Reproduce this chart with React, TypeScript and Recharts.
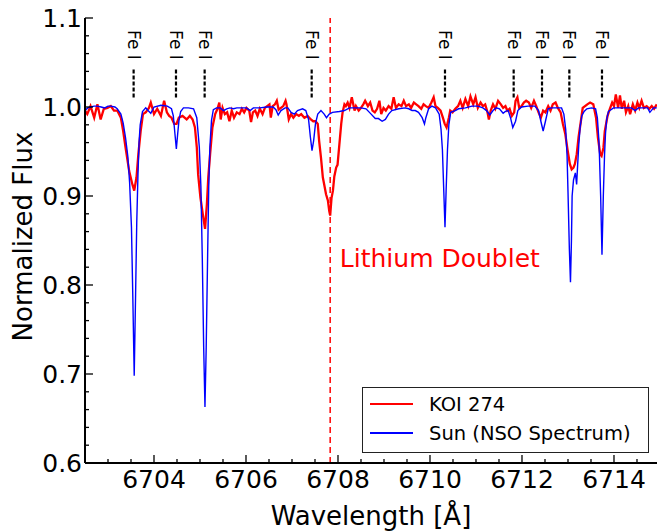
import React from 'react';
import { ComposedChart, Line, XAxis, YAxis, ReferenceLine, ReferenceDot, Legend } from 'recharts';

const FONT = "'DejaVu Sans', sans-serif";

// wavelength [Å], normalized flux
const KOI_274: [number, number][] = [
  [6702.50, 0.996], [6702.55, 0.992], [6702.62, 1.001], [6702.70, 0.988], [6702.77, 1.003],
  [6702.84, 0.986], [6702.91, 0.998], [6702.99, 0.999], [6703.06, 1.001], [6703.13, 0.996],
  [6703.20, 0.996], [6703.28, 0.988], [6703.33, 0.973], [6703.38, 0.955], [6703.46, 0.928],
  [6703.53, 0.913], [6703.57, 0.906], [6703.62, 0.921], [6703.66, 0.947], [6703.71, 0.973],
  [6703.76, 0.992], [6703.82, 0.994], [6703.89, 0.999], [6703.93, 1.005], [6704.00, 0.992],
  [6704.07, 0.998], [6704.15, 0.990], [6704.22, 1.007], [6704.28, 0.994], [6704.33, 0.990],
  [6704.38, 0.988], [6704.44, 0.981], [6704.49, 0.981], [6704.54, 0.988], [6704.62, 0.990],
  [6704.71, 0.986], [6704.78, 0.990], [6704.84, 0.986], [6704.89, 0.977], [6704.93, 0.955],
  [6704.96, 0.924], [6705.01, 0.898], [6705.06, 0.880], [6705.11, 0.863], [6705.15, 0.891],
  [6705.18, 0.921], [6705.22, 0.947], [6705.27, 0.977], [6705.33, 0.992], [6705.38, 0.998],
  [6705.42, 1.005], [6705.45, 0.986], [6705.49, 0.999], [6705.54, 0.992], [6705.59, 0.994],
  [6705.64, 0.984], [6705.69, 0.996], [6705.74, 0.988], [6705.80, 0.994], [6705.86, 0.992],
  [6705.91, 0.998], [6705.96, 0.994], [6706.01, 0.999], [6706.07, 0.996], [6706.11, 0.983],
  [6706.15, 0.994], [6706.20, 0.996], [6706.25, 0.990], [6706.30, 0.998], [6706.36, 0.992],
  [6706.41, 0.999], [6706.46, 1.001], [6706.51, 1.003], [6706.54, 0.988], [6706.58, 1.001],
  [6706.63, 1.003], [6706.67, 1.007], [6706.71, 0.997], [6706.76, 0.999], [6706.81, 1.001],
  [6706.86, 1.007], [6706.88, 1.003], [6706.93, 0.986], [6706.98, 0.992], [6707.03, 0.988],
  [6707.09, 0.992], [6707.15, 0.990], [6707.20, 0.992], [6707.27, 0.988], [6707.34, 0.990],
  [6707.41, 0.986], [6707.46, 0.984], [6707.51, 0.984], [6707.56, 0.981], [6707.59, 0.962],
  [6707.63, 0.943], [6707.67, 0.921], [6707.70, 0.913], [6707.74, 0.902], [6707.78, 0.895],
  [6707.81, 0.883], [6707.83, 0.878], [6707.86, 0.898], [6707.89, 0.906], [6707.92, 0.922],
  [6707.96, 0.932], [6707.99, 0.935], [6708.03, 0.958], [6708.07, 0.981], [6708.10, 0.994],
  [6708.14, 1.003], [6708.17, 1.001], [6708.21, 1.005], [6708.25, 0.999], [6708.30, 1.011],
  [6708.36, 0.996], [6708.39, 1.001], [6708.45, 0.996], [6708.50, 0.999], [6708.55, 1.003],
  [6708.59, 1.007], [6708.65, 1.001], [6708.70, 1.005], [6708.75, 0.996], [6708.80, 0.994],
  [6708.85, 0.998], [6708.90, 1.007], [6708.94, 0.992], [6708.99, 0.999], [6709.04, 0.996],
  [6709.10, 1.001], [6709.16, 0.998], [6709.21, 1.011], [6709.26, 0.999], [6709.32, 1.003],
  [6709.38, 1.001], [6709.43, 1.007], [6709.48, 1.001], [6709.54, 1.003], [6709.59, 0.999],
  [6709.65, 1.005], [6709.70, 1.003], [6709.75, 1.001], [6709.81, 0.998], [6709.86, 1.003],
  [6709.91, 1.001], [6709.97, 0.999], [6710.03, 1.005], [6710.08, 1.011], [6710.12, 1.001],
  [6710.17, 0.999], [6710.23, 0.996], [6710.28, 0.988], [6710.32, 0.981], [6710.36, 0.977],
  [6710.41, 0.988], [6710.44, 0.996], [6710.49, 0.994], [6710.55, 0.998], [6710.61, 1.001],
  [6710.66, 1.007], [6710.71, 0.999], [6710.77, 1.009], [6710.83, 1.001], [6710.88, 1.012],
  [6710.94, 1.003], [6710.99, 1.011], [6711.04, 0.999], [6711.10, 1.005], [6711.15, 1.001],
  [6711.20, 1.003], [6711.25, 0.994], [6711.28, 0.986], [6711.32, 0.996], [6711.37, 1.003],
  [6711.42, 0.998], [6711.48, 1.007], [6711.54, 1.003], [6711.59, 0.999], [6711.64, 1.001],
  [6711.68, 0.996], [6711.73, 0.998], [6711.78, 0.990], [6711.83, 0.994], [6711.86, 1.007],
  [6711.90, 1.011], [6711.94, 0.999], [6711.99, 1.001], [6712.04, 1.005], [6712.09, 1.007],
  [6712.15, 1.005], [6712.20, 0.999], [6712.26, 1.007], [6712.31, 1.001], [6712.36, 0.994],
  [6712.41, 0.988], [6712.46, 0.996], [6712.51, 0.994], [6712.57, 1.001], [6712.62, 0.996],
  [6712.67, 1.003], [6712.73, 1.005], [6712.78, 0.999], [6712.84, 0.994], [6712.89, 0.981],
  [6712.94, 0.970], [6712.99, 0.952], [6713.04, 0.936], [6713.08, 0.930], [6713.12, 0.932],
  [6713.15, 0.936], [6713.19, 0.947], [6713.23, 0.966], [6713.28, 0.984], [6713.32, 0.999],
  [6713.37, 1.001], [6713.42, 1.003], [6713.48, 1.005], [6713.55, 1.003], [6713.61, 0.988],
  [6713.65, 0.966], [6713.70, 0.947], [6713.73, 0.945], [6713.77, 0.954], [6713.80, 0.973],
  [6713.86, 0.990], [6713.91, 0.998], [6713.96, 1.005], [6714.00, 1.001], [6714.04, 1.014],
  [6714.09, 0.999], [6714.13, 1.013], [6714.17, 0.998], [6714.22, 1.007], [6714.26, 0.994],
  [6714.31, 1.001], [6714.35, 0.992], [6714.41, 1.003], [6714.46, 0.996], [6714.51, 1.005],
  [6714.55, 0.999], [6714.60, 1.007], [6714.65, 0.999], [6714.71, 1.001], [6714.77, 0.998],
  [6714.82, 1.001], [6714.87, 0.998], [6714.93, 1.003],
];

const SUN_NSO: [number, number][] = [
  [6702.50, 0.996], [6702.56, 0.999], [6702.62, 1.000], [6702.70, 1.001], [6702.77, 1.001],
  [6702.85, 1.000], [6702.93, 0.999], [6703.00, 1.001], [6703.06, 1.001], [6703.15, 1.000],
  [6703.20, 0.998], [6703.28, 0.992], [6703.33, 0.982], [6703.38, 0.966], [6703.43, 0.945],
  [6703.47, 0.915], [6703.51, 0.865], [6703.54, 0.785], [6703.57, 0.698], [6703.60, 0.790],
  [6703.625, 0.870], [6703.652, 0.925], [6703.675, 0.960], [6703.70, 0.980], [6703.75, 0.995],
  [6703.82, 0.999], [6703.87, 0.996], [6703.93, 0.993], [6704.00, 1.000], [6704.15, 1.002],
  [6704.29, 1.001], [6704.38, 0.998], [6704.42, 0.990], [6704.455, 0.970], [6704.486, 0.953],
  [6704.515, 0.970], [6704.543, 0.985], [6704.58, 0.995], [6704.64, 0.999], [6704.75, 0.999],
  [6704.86, 0.998], [6704.93, 0.988], [6704.985, 0.955], [6705.02, 0.910], [6705.05, 0.830],
  [6705.08, 0.730], [6705.108, 0.663], [6705.135, 0.730], [6705.165, 0.830], [6705.19, 0.910],
  [6705.215, 0.955], [6705.25, 0.985], [6705.29, 0.997], [6705.36, 0.999], [6705.44, 0.999],
  [6705.51, 0.996], [6705.58, 0.998], [6705.65, 0.999], [6705.73, 0.998], [6705.80, 0.999],
  [6705.87, 0.999], [6705.94, 0.999], [6706.01, 0.999], [6706.09, 0.996], [6706.16, 0.999],
  [6706.30, 0.999], [6706.45, 1.000], [6706.59, 1.000], [6706.65, 0.997], [6706.70, 0.991],
  [6706.76, 0.996], [6706.85, 0.999], [6706.91, 0.999], [6706.98, 0.994], [6707.05, 0.992],
  [6707.12, 0.996], [6707.23, 0.998], [6707.30, 0.996], [6707.36, 0.986], [6707.40, 0.966],
  [6707.435, 0.951], [6707.47, 0.962], [6707.51, 0.981], [6707.56, 0.992], [6707.63, 0.996],
  [6707.70, 0.992], [6707.75, 0.988], [6707.81, 0.992], [6707.88, 0.994], [6708.03, 0.995],
  [6708.14, 0.996], [6708.25, 0.999], [6708.39, 0.999], [6708.50, 0.999], [6708.61, 0.998],
  [6708.72, 0.992], [6708.81, 0.987], [6708.88, 0.987], [6708.96, 0.984], [6709.03, 0.986],
  [6709.10, 0.992], [6709.17, 0.996], [6709.32, 0.998], [6709.46, 0.999], [6709.54, 0.998],
  [6709.61, 0.996], [6709.68, 0.996], [6709.75, 0.994], [6709.83, 0.988], [6709.88, 0.981],
  [6709.91, 0.988], [6709.97, 0.998], [6710.04, 1.001], [6710.12, 0.999], [6710.20, 0.992],
  [6710.24, 0.975], [6710.27, 0.952], [6710.30, 0.905], [6710.326, 0.865], [6710.35, 0.905],
  [6710.38, 0.952], [6710.41, 0.980], [6710.45, 0.994], [6710.55, 0.996], [6710.62, 0.998],
  [6710.77, 0.999], [6710.91, 1.001], [6711.04, 1.001], [6711.15, 0.999], [6711.23, 0.996],
  [6711.30, 0.991], [6711.37, 0.996], [6711.44, 0.999], [6711.51, 0.998], [6711.59, 0.993],
  [6711.64, 0.995], [6711.70, 0.996], [6711.75, 0.988], [6711.80, 0.977], [6711.86, 0.984],
  [6711.91, 0.996], [6711.99, 1.000], [6712.13, 1.001], [6712.28, 1.001], [6712.36, 0.996],
  [6712.41, 0.984], [6712.46, 0.973], [6712.51, 0.984], [6712.57, 0.998], [6712.64, 0.999],
  [6712.78, 0.999], [6712.86, 0.999], [6712.91, 0.992], [6712.95, 0.975], [6712.98, 0.945],
  [6713.00, 0.905], [6713.03, 0.840], [6713.054, 0.803], [6713.075, 0.850], [6713.09, 0.900],
  [6713.12, 0.918], [6713.16, 0.926], [6713.188, 0.913], [6713.21, 0.935], [6713.235, 0.958],
  [6713.265, 0.978], [6713.30, 0.990], [6713.35, 0.995], [6713.41, 0.998], [6713.51, 0.999],
  [6713.60, 0.998], [6713.638, 0.988], [6713.665, 0.968], [6713.683, 0.947], [6713.71, 0.900],
  [6713.739, 0.834], [6713.768, 0.900], [6713.795, 0.947], [6713.815, 0.970], [6713.841, 0.986],
  [6713.88, 0.995], [6713.99, 0.999], [6714.13, 0.999], [6714.28, 0.999], [6714.38, 0.999],
  [6714.46, 0.996], [6714.53, 0.999], [6714.64, 0.999], [6714.73, 0.999], [6714.78, 0.994],
  [6714.86, 0.999], [6714.93, 0.999],
];

const FE_LINES = [6703.557, 6704.478, 6705.101, 6707.428, 6710.326, 6711.819, 6712.435, 6713.029, 6713.739];
const FE_TEXT_Y = 1.0697;
const FE_DASH_TOP = 1.0444;
const FE_DASH_BOTTOM = 1.0107;

const LI_DOUBLET = 6707.83;
const LI_LABEL = { wl: 6708.04, flux: 0.8197 };

const X_DOMAIN: [number, number] = [6702.5, 6714.935];
const Y_DOMAIN: [number, number] = [0.6, 1.1];
const X_MAJOR = [6704, 6706, 6708, 6710, 6712, 6714];
const X_TICKS = [
  6703, 6703.5, 6704, 6704.5, 6705, 6705.5, 6706, 6706.5, 6707, 6707.5, 6708, 6708.5,
  6709, 6709.5, 6710, 6710.5, 6711, 6711.5, 6712, 6712.5, 6713, 6713.5, 6714, 6714.5,
];
const Y_MAJOR = [0.6, 0.7, 0.8, 0.9, 1.0, 1.1];
const Y_TICKS = [
  0.6, 0.62, 0.64, 0.66, 0.68, 0.7, 0.72, 0.74, 0.76, 0.78, 0.8, 0.82, 0.84, 0.86, 0.88,
  0.9, 0.92, 0.94, 0.96, 0.98, 1.0, 1.02, 1.04, 1.06, 1.08, 1.1,
];

const koiRows = KOI_274.map(([wl, flux]) => ({ wl, flux }));
const sunRows = SUN_NSO.map(([wl, flux]) => ({ wl, flux }));

const isMajor = (list: number[], v: number) => list.some((m) => Math.abs(m - v) < 1e-6);

const TICK_FONT = 25;

const BottomTick = ({ x, y, payload }: any) => {
  const major = isMajor(X_MAJOR, payload.value);
  return (
    <g>
      <line x1={x} y1={y} x2={x} y2={y - (major ? 8 : 4)} stroke="#000" strokeWidth={1.3} />
      {major && (
        <text x={x} y={y + 25} textAnchor="middle" fontSize={TICK_FONT} fontFamily={FONT} fill="#000">
          {payload.value}
        </text>
      )}
    </g>
  );
};

const TopTick = ({ x, y, payload }: any) => {
  const major = isMajor(X_MAJOR, payload.value);
  return <line x1={x} y1={y} x2={x} y2={y + (major ? 8 : 4)} stroke="#000" strokeWidth={1.3} />;
};

const LeftTick = ({ x, y, payload }: any) => {
  const major = isMajor(Y_MAJOR, payload.value);
  return (
    <g>
      <line x1={x} y1={y} x2={x + (major ? 8 : 4)} y2={y} stroke="#000" strokeWidth={1.3} />
      {major && (
        <text x={x - 3} y={y + 8.5} textAnchor="end" fontSize={TICK_FONT} fontFamily={FONT} fill="#000">
          {payload.value.toFixed(1)}
        </text>
      )}
    </g>
  );
};

const RightTick = ({ x, y, payload }: any) => {
  const major = isMajor(Y_MAJOR, payload.value);
  return <line x1={x} y1={y} x2={x - (major ? 8 : 4)} y2={y} stroke="#000" strokeWidth={1.3} />;
};

const FeLabel = ({ cx, cy }: any) => (
  <text
    x={cx}
    y={cy}
    transform={`rotate(90 ${cx} ${cy})`}
    textAnchor="middle"
    dominantBaseline="central"
    fontSize={17}
    fontFamily={FONT}
    fill="#000"
  >
    Fe I
  </text>
);

const LiLabel = ({ cx, cy }: any) => (
  <text x={cx} y={cy} fontSize={25} fontFamily={FONT} fill="#ff0000">
    Lithium Doublet
  </text>
);

const LegendBox = ({ payload }: any) => (
  <svg width={287} height={66} style={{ display: 'block' }}>
    <rect x={0.5} y={0.5} width={286} height={65} fill="#fff" stroke="#222" strokeWidth={1} />
    {(payload || []).map((p: any, i: number) => (
      <g key={p.value}>
        <line x1={8} x2={51} y1={17 + i * 29} y2={17 + i * 29} stroke={p.color} strokeWidth={2} />
        <text x={67} y={24 + i * 29} fontSize={19.5} fontFamily={FONT} fill="#000">
          {p.value}
        </text>
      </g>
    ))}
  </svg>
);

const axisLine = { stroke: '#000', strokeWidth: 2 };

export default function App() {
  return (
    <div style={{ position: 'absolute', left: 0, top: 0, background: '#fff' }}>
      <ComposedChart width={658} height={531} margin={{ top: 18, right: 1, bottom: 0, left: 0 }}>
        <XAxis
          dataKey="wl"
          type="number"
          domain={X_DOMAIN}
          allowDataOverflow
          ticks={X_TICKS}
          interval={0}
          tickSize={0}
          tickMargin={0}
          tickLine={false}
          tick={<BottomTick />}
          axisLine={axisLine}
          height={68}
          label={{
            content: ({ viewBox }: any) => {
              const vb = viewBox || { x: 85, y: 463, width: 572, height: 68 };
              return (
                <text x={vb.x + vb.width / 2} y={vb.y + 62} textAnchor="middle" fontSize={26} fontFamily={FONT} fill="#000">
                  Wavelength [Å]
                </text>
              );
            },
          }}
        />
        <XAxis
          xAxisId="top"
          orientation="top"
          type="number"
          domain={X_DOMAIN}
          allowDataOverflow
          ticks={X_TICKS}
          interval={0}
          tickSize={0}
          tickMargin={0}
          tickLine={false}
          tick={<TopTick />}
          axisLine={axisLine}
          height={0}
        />
        <YAxis
          type="number"
          domain={Y_DOMAIN}
          allowDataOverflow
          ticks={Y_TICKS}
          interval={0}
          tickSize={0}
          tickMargin={0}
          tickLine={false}
          tick={<LeftTick />}
          axisLine={axisLine}
          width={85}
          label={{
            content: ({ viewBox }: any) => {
              const vb = viewBox || { x: 0, y: 18, width: 85, height: 445 };
              const cx = 31.5;
              const cy = vb.y + vb.height / 2 - 4;
              return (
                <text x={cx} y={cy} transform={`rotate(-90 ${cx} ${cy})`} textAnchor="middle" fontSize={26} fontFamily={FONT} fill="#000">
                  Normalized Flux
                </text>
              );
            },
          }}
        />
        <YAxis
          yAxisId="right"
          orientation="right"
          type="number"
          domain={Y_DOMAIN}
          allowDataOverflow
          ticks={Y_TICKS}
          interval={0}
          tickSize={0}
          tickMargin={0}
          tickLine={false}
          tick={<RightTick />}
          axisLine={axisLine}
          width={0}
        />
        <ReferenceLine x={LI_DOUBLET} stroke="#ff0000" strokeWidth={1.5} strokeDasharray="6 4" />
        {FE_LINES.map((wl) => (
          <ReferenceLine
            key={`fe-${wl}`}
            segment={[{ x: wl, y: FE_DASH_BOTTOM }, { x: wl, y: FE_DASH_TOP }]}
            stroke="#000"
            strokeWidth={2.2}
            strokeDasharray="4 2"
          />
        ))}
        {FE_LINES.map((wl) => (
          <ReferenceDot key={`fe-label-${wl}`} x={wl} y={FE_TEXT_Y} shape={(p: any) => <FeLabel {...p} />} />
        ))}
        <ReferenceDot x={LI_LABEL.wl} y={LI_LABEL.flux} shape={(p: any) => <LiLabel {...p} />} />
        <Line
          data={koiRows}
          dataKey="flux"
          name="KOI 274"
          type="linear"
          stroke="#ff0000"
          strokeWidth={2.3}
          dot={false}
          isAnimationActive={false}
        />
        <Line
          data={sunRows}
          dataKey="flux"
          name="Sun (NSO Spectrum)"
          type="linear"
          stroke="#0000ff"
          strokeWidth={1.4}
          dot={false}
          isAnimationActive={false}
        />
        <Legend
          layout="horizontal"
          verticalAlign="middle"
          align="center"
          content={<LegendBox />}
          wrapperStyle={{ left: 362, top: 387, width: 287, height: 66 }}
        />
      </ComposedChart>
    </div>
  );
}
